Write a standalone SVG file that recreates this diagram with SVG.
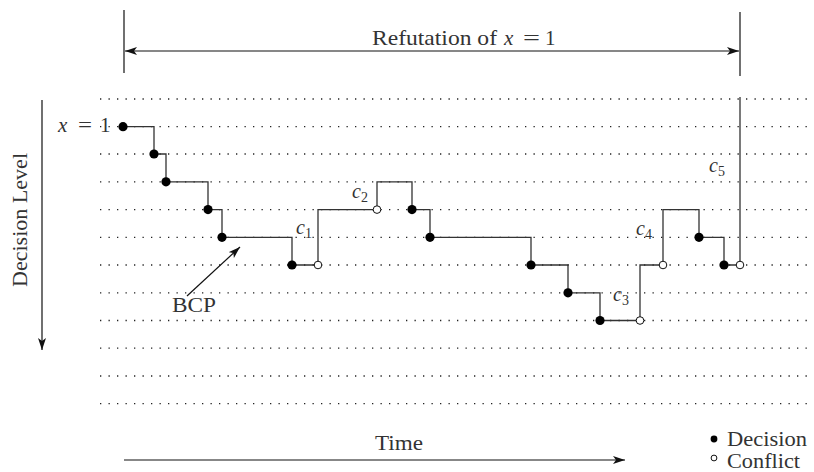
<svg xmlns="http://www.w3.org/2000/svg" width="814" height="472" viewBox="0 0 814 472">
<defs>
<style>
.dot{stroke:#222;stroke-width:1.3;stroke-dasharray:1.3 7.2;fill:none}
.ln{stroke:#333;stroke-width:1.3;fill:none}
.blk{stroke:#111;stroke-width:1.2;fill:none}
.dec{fill:#000}
.con{fill:#fff;stroke:#111;stroke-width:1}
text{font-family:"Liberation Serif","DejaVu Serif",serif;fill:#333;font-size:21px}
.it{font-style:italic}
.c{font-style:italic;font-size:20px}
.sub{font-size:14px;font-style:normal}
</style>
<marker id="ah" viewBox="0 0 12 8" refX="12" refY="4" markerWidth="12" markerHeight="8" markerUnits="userSpaceOnUse" orient="auto-start-reverse">
<path d="M0,0 L12,4 L0,8 L3,4 Z" fill="#111"/>
</marker>
</defs>
<rect width="814" height="472" fill="#fff"/>
<g id="grid">
<line class="dot" x1="100" y1="99" x2="814" y2="99"/>
<line class="dot" x1="100" y1="126.7" x2="814" y2="126.7"/>
<line class="dot" x1="100" y1="154" x2="814" y2="154"/>
<line class="dot" x1="100" y1="181.8" x2="814" y2="181.8"/>
<line class="dot" x1="100" y1="209.6" x2="814" y2="209.6"/>
<line class="dot" x1="100" y1="237.3" x2="814" y2="237.3"/>
<line class="dot" x1="100" y1="265" x2="814" y2="265"/>
<line class="dot" x1="100" y1="292.8" x2="814" y2="292.8"/>
<line class="dot" x1="100" y1="320.5" x2="814" y2="320.5"/>
<line class="dot" x1="100" y1="348.2" x2="814" y2="348.2"/>
<line class="dot" x1="100" y1="376" x2="814" y2="376"/>
<line class="dot" x1="100" y1="403.7" x2="814" y2="403.7"/>
</g>
<g id="refutation">
<line class="blk" x1="124" y1="10" x2="124" y2="73"/>
<line class="blk" x1="740" y1="12" x2="740" y2="76"/>
<line class="blk" x1="125" y1="51" x2="739" y2="51" marker-start="url(#ah)" marker-end="url(#ah)"/>
<text x="372" y="45" textLength="125" lengthAdjust="spacingAndGlyphs">Refutation of</text>
<text x="504" y="45" class="it">x</text>
<text x="523" y="45" textLength="17" lengthAdjust="spacingAndGlyphs">=</text>
<text x="545" y="45">1</text>
</g>
<g id="axis-level">
<line class="blk" x1="42" y1="100" x2="42" y2="350" marker-end="url(#ah)"/>
<text x="0" y="0" text-anchor="middle" textLength="134" lengthAdjust="spacingAndGlyphs" transform="translate(27,220) rotate(-90)">Decision Level</text>
</g>
<g id="axis-time">
<line class="blk" x1="124" y1="460" x2="625" y2="460" marker-end="url(#ah)"/>
<text x="375" y="450" textLength="48" lengthAdjust="spacingAndGlyphs">Time</text>
</g>
<g id="connectors">
<path class="ln" d="M123,126.7 H154 V154 H166 V181.8 H208 V209.6 H222 V237.3 H292 V265 H318 V209.6 H377 V181.8 H412 V209.6 H430 V237.3 H531 V265 H568 V292.8 H600 V320.5 H640 V265 H663 V209.6 H699 V237.3 H724 V265 H740 V97"/>
<line class="blk" x1="187" y1="296" x2="240" y2="247" marker-end="url(#ah)"/>
</g>
<g id="decisions">
<circle class="dec" cx="123" cy="126.7" r="4.6"/>
<circle class="dec" cx="154" cy="154" r="4.6"/>
<circle class="dec" cx="166" cy="181.8" r="4.6"/>
<circle class="dec" cx="208" cy="209.6" r="4.6"/>
<circle class="dec" cx="222" cy="237.3" r="4.6"/>
<circle class="dec" cx="292" cy="265" r="4.6"/>
<circle class="dec" cx="412" cy="209.6" r="4.6"/>
<circle class="dec" cx="430" cy="237.3" r="4.6"/>
<circle class="dec" cx="531" cy="265" r="4.6"/>
<circle class="dec" cx="568" cy="292.8" r="4.6"/>
<circle class="dec" cx="600" cy="320.5" r="4.6"/>
<circle class="dec" cx="699" cy="237.3" r="4.6"/>
<circle class="dec" cx="724" cy="265" r="4.6"/>
</g>
<g id="conflicts">
<circle class="con" cx="318" cy="265" r="3.8"/>
<circle class="con" cx="377" cy="209.6" r="3.8"/>
<circle class="con" cx="640" cy="320.5" r="3.8"/>
<circle class="con" cx="663" cy="265" r="3.8"/>
<circle class="con" cx="740" cy="265" r="3.8"/>
</g>
<g id="labels">
<text x="58" y="132" class="it">x</text>
<text x="78" y="132" textLength="14" lengthAdjust="spacingAndGlyphs">=</text>
<text x="100" y="132">1</text>
<text x="296" y="234" class="c">c<tspan class="sub" dy="4">1</tspan></text>
<text x="352" y="198" class="c">c<tspan class="sub" dy="4">2</tspan></text>
<text x="613" y="301" class="c">c<tspan class="sub" dy="4">3</tspan></text>
<text x="636" y="235" class="c">c<tspan class="sub" dy="4">4</tspan></text>
<text x="709" y="172" class="c">c<tspan class="sub" dy="4">5</tspan></text>
<text x="172" y="312" textLength="44" lengthAdjust="spacingAndGlyphs">BCP</text>
</g>
<g id="legend">
<circle class="dec" cx="714" cy="439" r="3.4"/>
<circle class="con" cx="714" cy="458" r="2.9"/>
<text x="727" y="446" textLength="80" lengthAdjust="spacingAndGlyphs">Decision</text>
<text x="727" y="468" textLength="73" lengthAdjust="spacingAndGlyphs">Conflict</text>
</g>
</svg>
